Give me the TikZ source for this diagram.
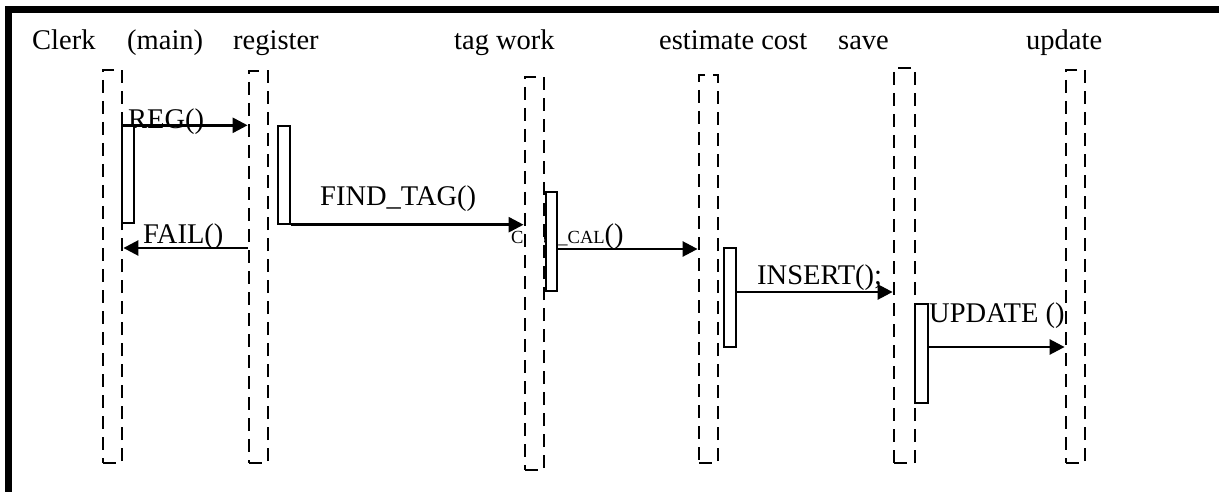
\documentclass[tikz,border=0pt]{standalone}
\usepackage{fontspec}
\setmainfont{Liberation Serif}
\usetikzlibrary{arrows.meta,calc}
\begin{document}
\begin{tikzpicture}[x=1pt,y=-1pt,
  lbl/.style={anchor=base west, inner sep=0pt, font=\fontsize{28.5}{30}\selectfont},
  life/.style={draw, fill=white, line width=2.8pt, dash pattern=on 13pt off 8pt, minimum width=19pt, inner sep=0pt},
  act/.style={draw, fill=white, line width=1.4pt, minimum width=12pt, inner sep=0pt},
  msg/.style={line width=2.6pt, -{Triangle[length=15pt,width=15pt]}},
  frame/.style={line width=7pt, line join=miter}]
\useasboundingbox (0,0) rectangle (1219,492);
% frame
\draw[frame] (8.5,495) -- (8.5,9.5) -- (1225,9.5);
% headings
\node[lbl] (hClerk) at (32,49.5) {Clerk};
\node[lbl] (hMain) at (127,49.5) {(main)};
\node[lbl] (hReg) at (233,49.5) {register};
\node[lbl] (hTag) at (454,49.5) {tag work};
\node[lbl] (hEst) at (659,49.5) {estimate cost};
\node[lbl] (hSave) at (838,49.5) {save};
\node[lbl] (hUpd) at (1026,49.5) {update};
% message labels
\node[lbl] (mReg) at (128,129) {REG()};
\node[lbl] (mFail) at (143,243) {FAIL()};
\node[lbl] (mFind) at (320,205) {FIND\_TAG()};
\node[lbl] (mCost) at (511,243) {{\fontsize{18.5}{19}\selectfont COST\_CAL}()};
\node[lbl] (mIns) at (757,284) {INSERT();};
\node[lbl] (mUpd) at (929,322) {UPDATE ()};
% lifelines
\node[life, minimum height=393pt] (L1) at (112.5,266.5) {};
\node[life, minimum height=392pt] (L2) at (258.5,267) {};
\node[life, minimum height=393pt] (L3) at (534.5,273.5) {};
\node[life, minimum height=388pt] (L4) at (708.5,269) {};
\node[life, minimum width=21pt, minimum height=395pt] (L5) at (904.5,265.5) {};
\node[life, minimum height=393pt] (L6) at (1075.5,266.5) {};
% activations
\node[act, minimum height=97pt] (A1) at (128,174.5) {};
\node[act, minimum height=98pt] (A2) at (284,175) {};
\node[act, minimum width=11pt, minimum height=99pt] (A3) at (551.5,241.5) {};
\node[act, minimum height=99pt] (A4) at (730,297.5) {};
\node[act, minimum width=13pt, minimum height=99pt] (A5) at (921.5,353.5) {};
% message rows
\coordinate (yF) at (0,248);
\coordinate (yC) at (0,249);
\coordinate (yI) at (0,292);
\coordinate (yU) at (0,347);
% messages
\draw[msg] (A1.north west) -- (L2.west |- A1.north west);
\draw[msg] (L2.west |- yF) -- (L1.east |- yF);
\draw[msg] (A2.south east) -- (L3.west |- A2.south east);
\draw[msg] (A3.east |- yC) -- (L4.west |- yC);
\draw[msg] (A4.east |- yI) -- (L5.west |- yI);
\draw[msg] (A5.east |- yU) -- (L6.west |- yU);
\end{tikzpicture}
\end{document}
